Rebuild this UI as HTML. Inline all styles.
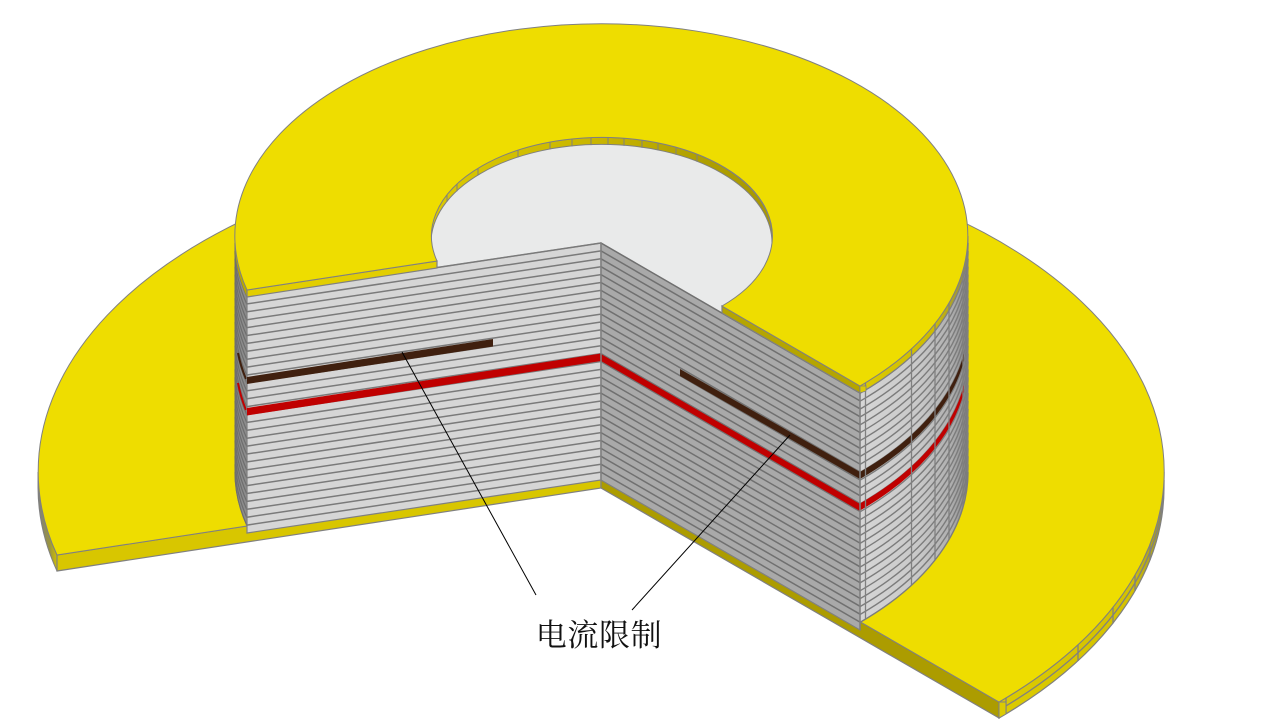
<!DOCTYPE html>
<html><head><meta charset="utf-8">
<style>html,body{margin:0;padding:0;background:#fff;width:1280px;height:720px;overflow:hidden}svg{display:block}</style>
</head><body>
<svg width="1280" height="720" viewBox="0 0 1280 720" xmlns="http://www.w3.org/2000/svg">
<defs>
<linearGradient id="wallR" gradientUnits="userSpaceOnUse" x1="860" y1="0" x2="968" y2="0"><stop offset="0" stop-color="#d6d6d6"/><stop offset=".55" stop-color="#c8c8c8"/><stop offset=".85" stop-color="#aeaeae"/><stop offset="1" stop-color="#888"/></linearGradient>
<linearGradient id="capR" gradientUnits="userSpaceOnUse" x1="860" y1="0" x2="968" y2="0"><stop offset="0" stop-color="#dcca00"/><stop offset=".7" stop-color="#cdbb00"/><stop offset="1" stop-color="#8f8a50"/></linearGradient>
<linearGradient id="hole" gradientUnits="userSpaceOnUse" x1="431" y1="0" x2="772" y2="0"><stop offset="0" stop-color="#dcc900"/><stop offset=".5" stop-color="#c8b500"/><stop offset=".78" stop-color="#b0a000"/><stop offset="1" stop-color="#a89800"/></linearGradient>
<linearGradient id="flL" gradientUnits="userSpaceOnUse" x1="38" y1="0" x2="57" y2="0"><stop offset="0" stop-color="#808080"/><stop offset=".6" stop-color="#9a9440"/><stop offset="1" stop-color="#d0be00"/></linearGradient>
<linearGradient id="flR" gradientUnits="userSpaceOnUse" x1="999" y1="0" x2="1164" y2="0"><stop offset="0" stop-color="#dccb00"/><stop offset=".8" stop-color="#d4c200"/><stop offset="1" stop-color="#9a9330"/></linearGradient>
<path id="a" d="M247 296l354-53"/>
<g id="a5"><use href="#a"/><use href="#a" y="7.9"/><use href="#a" y="15.8"/><use href="#a" y="23.7"/><use href="#a" y="31.6"/></g>
<path id="b" d="M601 243l259 150"/>
<g id="b5"><use href="#b"/><use href="#b" y="7.9"/><use href="#b" y="15.8"/><use href="#b" y="23.7"/><use href="#b" y="31.6"/></g>
<path id="c" d="M860 393.3a366.5 212 0 0 0 108-150.3"/>
<g id="c5"><use href="#c"/><use href="#c" y="7.9"/><use href="#c" y="15.8"/><use href="#c" y="23.7"/><use href="#c" y="31.6"/></g>
<path id="d" d="M235 243a366.5 212 0 0 0 12 53.7"/>
<g id="d5"><use href="#d"/><use href="#d" y="7.9"/><use href="#d" y="15.8"/><use href="#d" y="23.7"/><use href="#d" y="31.6"/></g>
</defs>

<!-- flange walls -->
<path d="M57 555A563 325.7 0 0 1 38 472L38 488A563 325.7 0 0 0 57 571Z" fill="url(#flL)" stroke="#808080" stroke-width="1"/>
<path d="M999 702A563 325.7 0 0 0 1164 472L1164 488A563 325.7 0 0 1 999 718Z" fill="url(#flR)" stroke="#808080" stroke-width="1.2"/>
<path d="M999 710A563 325.7 0 0 0 1164 480" fill="none" stroke="#808080" stroke-width="1.3"/>
<path d="M1006 698v16M1078 645v16M1113 607.5v16M1135 575v16M1150 544v16" stroke="#808080" stroke-width="1.3" fill="none"/>
<!-- flange cut strips -->
<path d="M57 555L601 472V488L57 571Z" fill="#d8c600" stroke="#808080" stroke-width="1.2"/>
<path d="M601 472L999 702V718L601 488Z" fill="#ac9c00" stroke="#808080" stroke-width="1.2"/>
<path d="M999 702h7v12l-7 4Z" fill="#dccb00" stroke="#808080" stroke-width="1"/>
<!-- flange top -->
<path d="M601 472L57 555A563 325.7 0 1 1 999 702Z" fill="#eedd00" stroke="#808080" stroke-width="1"/>

<!-- cylinder left wall -->
<path d="M235 236L235 472A366.5 212 0 0 0 247 526L247 290A366.5 212 0 0 1 235 236Z" fill="#8c8c8c" stroke="#808080" stroke-width="1"/>
<g fill="none" stroke="#6e6e6e" stroke-width="1.2">
<use href="#d5"/><use href="#d5" y="39.5"/><use href="#d5" y="79"/><use href="#d5" y="118.5"/><use href="#d5" y="158"/><use href="#d5" y="197.5"/>
</g>
<path d="M238 353a366.5 212 0 0 0 8 26" fill="none" stroke="#40200f" stroke-width="2"/>
<path d="M238 383a366.5 212 0 0 0 8 27" fill="none" stroke="#c00000" stroke-width="2"/>
<path d="M235 236A366.5 212 0 0 0 247 290V297A366.5 212 0 0 1 235 243Z" fill="#b8a900"/>

<!-- cylinder right wall -->
<path d="M860 386A366.5 212 0 0 0 968 236V472A366.5 212 0 0 1 860 622Z" fill="url(#wallR)"/>
<g fill="none" stroke="#7c7c7c" stroke-width="1.4">
<use href="#c5"/><use href="#c5" y="39.5"/><use href="#c5" y="79"/><use href="#c5" y="118.5"/><use href="#c5" y="158"/><use href="#c5" y="197.5"/>
</g>
<path d="M860 472A366.5 212 0 0 0 964 353.5V360.5A366.5 212 0 0 1 860 479Z" fill="#40200f"/>
<path d="M860 503.5A366.5 212 0 0 0 964 385V392A366.5 212 0 0 1 860 510.5Z" fill="#c00000"/>
<path d="M860 386A366.5 212 0 0 0 968 236V243A366.5 212 0 0 1 860 393Z" fill="url(#capR)" stroke="#808080" stroke-width=".8"/>
<path d="M865.5 383V619M911.5 349V585M935 324V560M949 303V539M963 271V507" stroke="#808080" stroke-width="1.3" fill="none"/>
<path d="M967.5 236V472" stroke="#808080" stroke-width="1.6"/>

<!-- hole -->
<ellipse cx="601.5" cy="236" rx="170.5" ry="98.6" fill="url(#hole)" stroke="#808080" stroke-width="1"/>
<ellipse cx="601.5" cy="243" rx="170.5" ry="98.6" fill="#e9eaea" stroke="#808080" stroke-width="1"/>
<path d="M447 194.3v7.5M457 183.7v7.5M478 168v7.5M518 150v7.5M550 142v7.5M572 138.9v7.5M591 137.6v7.5M608 137.5v7.5M624 138.3v7.5M642 140.2v7.5M658 143v7.5M676 147.3v7.5M697 154.3v7.5" stroke="#808080" stroke-width="1" fill="none"/>

<!-- faces -->
<path d="M247 296L601 243V480L247 533Z" fill="#d6d6d6" stroke="#808080" stroke-width="1.2"/>
<g fill="none" stroke="#7a7a7a" stroke-width="1.5">
<use href="#a5"/><use href="#a5" y="39.5"/><use href="#a5" y="79"/><use href="#a5" y="118.5"/><use href="#a5" y="158"/><use href="#a5" y="197.5"/>
</g>
<path d="M601 243L860 393V630L601 480Z" fill="#a9a9a9" stroke="#808080" stroke-width="1.2"/>
<g fill="none" stroke="#707070" stroke-width="1.5">
<use href="#b5"/><use href="#b5" y="39.5"/><use href="#b5" y="79"/><use href="#b5" y="118.5"/><use href="#b5" y="158"/><use href="#b5" y="197.5"/>
</g>
<path d="M247 377L493 339V346.5L247 384Z" fill="#40200f"/>
<path d="M247 408L601 353.5V361L247 415.5Z" fill="#c00000"/>
<path d="M601 354L860 504V511L601 361Z" fill="#c00000"/>
<path d="M680 369L860 472V479L680 376Z" fill="#40200f"/>
<path d="M601 243V480M860 393V630" stroke="#808080" stroke-width="1.5" fill="none"/>

<!-- cap strips -->
<path d="M247 290L437 261V268L247 297Z" fill="#e2ce00" stroke="#808080" stroke-width="1.2"/>
<path d="M722 306L860 386V393L722 313Z" fill="#b5a500" stroke="#808080" stroke-width="1.2"/>
<path d="M860 386h6v5l-6 2Z" fill="#dccb00" stroke="#808080" stroke-width=".8"/>
<!-- cap top -->
<path d="M247 290A366.5 212 0 1 1 860 386L722 306A170.5 98.6 0 1 0 437 261Z" fill="#eedd00" stroke="#808080" stroke-width="1"/>

<!-- leaders -->
<path d="M402 352L536 595M790 435L632 610" stroke="#000" stroke-width="1" fill="none"/>
<text x="599" y="646" font-size="31" letter-spacing="0.6" text-anchor="middle" fill="#111" font-family="'Liberation Serif','Noto Serif CJK SC',serif">电流限制</text>
</svg>
</body></html>
